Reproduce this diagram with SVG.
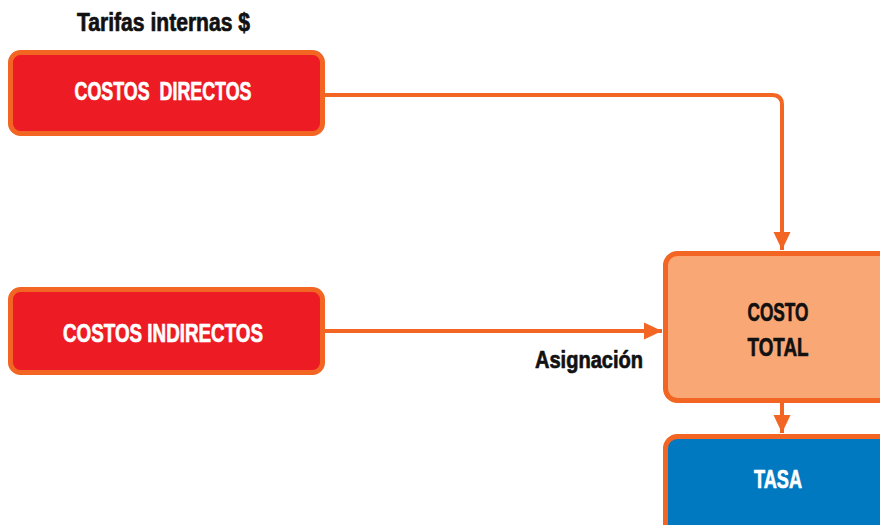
<svg xmlns="http://www.w3.org/2000/svg" width="880" height="525" viewBox="0 0 880 525">
<defs>
<style>
.box{stroke:#F26522;stroke-width:5}
.red{fill:#ED1C24}
.sal{fill:#F9A875}
.blue{fill:#0079C1}
.t{font-family:"Liberation Sans",Arial,sans-serif;font-weight:bold;text-anchor:middle;stroke-width:0.7;stroke-linejoin:round}
.w{fill:#FFFFFF;stroke:#FFFFFF}
.k{fill:#111111;stroke:#111111}
.con{fill:none;stroke:#F26522;stroke-width:4}
</style>
<marker id="ah" markerUnits="userSpaceOnUse" markerWidth="20" markerHeight="20" viewBox="0 0 20 20" refX="18" refY="10" orient="auto">
<path d="M0,1.5 L18,10 L0,18.5 Z" fill="#F26522"/>
</marker>
</defs>
<rect width="880" height="525" fill="#FFFFFF"/>
<g id="connectors">
<path class="con" d="M325,95 H772 Q782,95 782,105 V250" marker-end="url(#ah)"/>
<path class="con" d="M325,331 H662" marker-end="url(#ah)"/>
<path class="con" d="M782,403 V433" marker-end="url(#ah)"/>
</g>
<g id="label-tarifas">
<text class="t k" x="163.5" y="30.5" font-size="25" textLength="173" lengthAdjust="spacingAndGlyphs">Tarifas internas $</text>
</g>
<g id="node-directos">
<rect class="box red" x="10.5" y="52.5" width="312" height="81" rx="10"/>
<text class="t w" x="163" y="100" font-size="26" textLength="177" lengthAdjust="spacingAndGlyphs">COSTOS&#160; DIRECTOS</text>
</g>
<g id="node-indirectos">
<rect class="box red" x="10.5" y="289.5" width="312" height="83" rx="10"/>
<text class="t w" x="163" y="342" font-size="26" textLength="200" lengthAdjust="spacingAndGlyphs">COSTOS INDIRECTOS</text>
</g>
<g id="label-asignacion">
<text class="t k" x="589" y="367.5" font-size="24.5" textLength="108" lengthAdjust="spacingAndGlyphs">Asignación</text>
</g>
<g id="node-costo-total">
<rect class="box sal" x="665.5" y="253.5" width="240" height="147" rx="12"/>
<text class="t k" x="778" y="321" font-size="26" textLength="61" lengthAdjust="spacingAndGlyphs">COSTO</text>
<text class="t k" x="778" y="356" font-size="26" textLength="61" lengthAdjust="spacingAndGlyphs">TOTAL</text>
</g>
<g id="node-tasa">
<rect class="box blue" x="665.5" y="436.5" width="240" height="120" rx="12"/>
<text class="t w" x="778" y="488" font-size="26" textLength="48" lengthAdjust="spacingAndGlyphs">TASA</text>
</g>
</svg>
